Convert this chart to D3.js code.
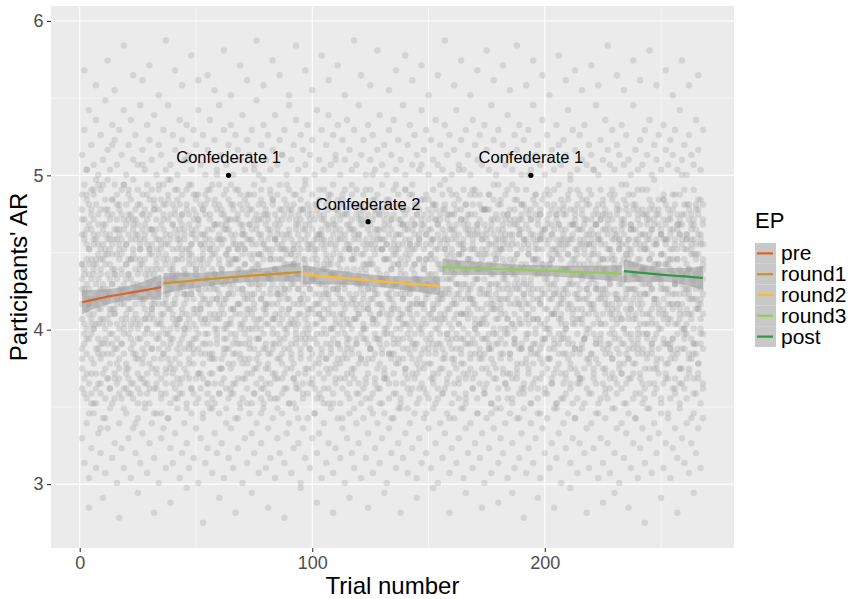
<!DOCTYPE html>
<html>
<head>
<meta charset="utf-8">
<script src="https://cdn.jsdelivr.net/npm/d3@7"></script>
<style>
  body { margin: 0; background: #fff; }
  svg text { font-family: "Liberation Sans", Arial, sans-serif; }
</style>
</head>
<body>
<svg id="chart" width="856" height="599"></svg>
<script>
// ---- data ----
const epLevels = ["pre", "round1", "round2", "round3", "post"];
const epColors = ["#d9622b", "#d09022", "#fbb934", "#92cd55", "#2b9a45"];

// loess fit per EP block: trial, fitted AR, standard error
const fitTrials = [[1, 9, 18, 27, 35], [36, 51, 65, 80, 95], [96, 111, 125, 140, 155], [156, 175, 195, 214, 233], [234, 243, 251, 260, 268]];
const fitAR = [[4.178, 4.205, 4.23, 4.253, 4.275], [4.30, 4.322, 4.34, 4.357, 4.374], [4.357, 4.338, 4.32, 4.30, 4.283], [4.406, 4.395, 4.385, 4.375, 4.364], [4.38, 4.366, 4.355, 4.345, 4.335]];
const fitSE = [[0.078, 0.055, 0.045, 0.058, 0.082], [0.068, 0.047, 0.04, 0.045, 0.063], [0.062, 0.045, 0.038, 0.045, 0.062], [0.053, 0.04, 0.034, 0.04, 0.053], [0.076, 0.055, 0.045, 0.055, 0.078]];

// confederates
const confTrial = [64, 124, 194];
const confAR = [5.0, 4.7, 5.0];
const confLabel = ["Confederate 1", "Confederate 2", "Confederate 1"];

const xTicks = [0, 100, 200];
const xMinor = [50, 150, 250];
const yTicks = [3, 4, 5, 6];
const yMinor = [3.5, 4.5, 5.5];

// participants' AR per trial: one token per trial, two digits per rating level
const arLevelMin = 2.75, arLevelStep = 0.0322;
const arByTrial = `
443158174963277441356652 512961124657367940476891 393456205365257148305945 473764094260288350445503 532659154067337645386249
423266225156247239506158 483557114469308152276488 402862185458377046436034 503355144163267843366747 453068214859347353415605
522560103965318544375854 413663194757297550456993 462758235261387140325543 543465134356248048516236 432957165068357742305987
493761084564287254406657 393156205359337947266301 512567154162367444465750 443859114855278339346896 473064224260327052495641
532658175066297645316162 403562094657378143536528 482855195469257341365990 423363144461347851405747 502460213958307248276706
453757125264268440475653 522966184759357544326289 413458234363287153456038 472661104956368039306851 543265164162247746505592
433856205167317342355944 492763134558338250416402 403059225361277047285755 463567084057377654446386 512555174865297441336042
443662194259347949396864 382858115264267145315697 533361214656388443486635 472457153969327251366204 423764125060307844415549
493159184463257540276791 552965234157357053465839 413456094761288148326459 482662145366377742436088 443858203959317350355746
503067164555248046406307 393560115262337441296853 462756224868367154475694 523263134358267945346137 433757195065297639515962
472561084260358349306689 533464174656277243445841 402958215463327851365500 453666124157387047416256 502659154967247540286590
423362234461308153475734 483056105159347345336848 542465183964287742506087 413760144755367149386345 463157225368268444425805
512863164362337450315660 443559094857297939456695 392767204560377254356140 533255134065257646485952 473861195258318041266486
432664114663347048435736 493458214256287853376702 552962155061367544515547 403656234466247342336092 462560085459328247406358
523365174155387150295839 423057124964277745466289 483763224360357439366654 452459185357307951425606 513566144668267243316144
392856204062338549485997 473261105258377054346441 542758164565297641395761 433864234856248046276988 503160114263367344435535
442657195561317840326203 493467134759287153505846 413055213964357548366593 533662095157258242416057 462559174466337247295638
403363145360377750456890 482956224158267443346153 553765124662307939475701 422758184955387054316445 473561204367248445405986
523157105463347341366249 442464154056297648525532 393859235061368153286696 503062164758277142446040 453455084265337850375707
532867194859257544466363 413660135257377239306891 482658214562318051425655 433363113960357447356137 492956175366287743495987
543761224655327040276442 402557145063388352445804 463265184458267348336258 513559094161347945385694 432762205557297141516746
473856124864367653316033 523060164259248246456389 443466235356317239365750 392658104768377850426102 503163154060287444295559
463657215262338048476592 422461134557357054325940 533364194165277742396248 482955085058387347436786 413760174463308151355636
552859224956257540466005 453566143961347153306453 493157115459297945415897 432662204667367241375544 503458164257328449486361
473864095162247444336090 402756214560377752436639 523261134855287039295751 443659184364338047476203 492567235358357342355688
413357104061267855416545 542963154756387146285962 463758205166317540446395 422462124459278250365737 483555175563347243496849
533060223957297648316106 393865084962367053425656 452858194660257941346487 513461144255337447455943 432657215267378144306234
493264114858287139485591 553656164161327752376652 422560235364247346415802 473763134556358442336060 403159185062307054466794
532755104359387648296340 463466203957268044435647 413061154768337251365989 523858225560297840506436 442464094256367445326205
483357174963277153395758 392860124461348347446592 513562215255317541276044 452656144066377948475853 503265194659257042356386
423759115462327750415638 472957234357287344306707 533463164864358139496161 442558084160307252365590 403661205156387645426246
493166134563267147335935 552757184258348041466497 433862225361297454285749 463059104767367843406002 513355153959247049376657
412664215062327544455888 483560124457378352316342 542958174665287240485654 453763234256357747346193 393256095560307151426737
502461194864267945295906 433659144158387453476246 473166205362337042365586 522757114556298148446459 443462163967367641305840
493858225159257354496091 402864134761347846356651 533355184357317240415703 462660085463378049276363 423757214055287544465995
513063154866357152385636 453559104460248443336148 392965195258327750436889 483656234662387041315755 542561124157277947456404
433458175564337345375544 473162144959307653506092 503857204261367239286658 412767094756258248416238 463360225363347444345887
522458164057297151475606 443663114865377842396150 492956214560317554306796 403561135158268047445941 553259184362357040366461
452664234956287746485701 483757104267337352326088 423062155459387944405547 513458204661247149276335 472865124157328441455893
393856175064367453346652 532560224755277645416105 443363094462357240295757 503659195258308147466590 462757143966377051375943
413161214860267843505639 523566114557337354336286 452958165363287542426048 483755234259367146306403 432462135061318049475762
543460184656387641366894 403057084165257253445945 473864205558347745286237 512659154762297439395689 443356224357378348466654
492863125267327044316007 423658174860247950415760 533161214055357546356391 462567105464307143485941 413557164559287852295634
502962234963367340436587 453760144257318054376150 392756195161387247455802 483264114658267642336756 543459204366347449505792
433058155556297144406238 473663224860378451286047 522457094162327045476488 403861175357257740365661 463165124764357353425904
512756214459308147316345 443560165061367543465896 492962104255277248346636 423357235467337941446153 533759144658387150295706
452664194063287646416290 483456085157317444375542 413061204560368052486859 503658134965247239326087 462863184356347847456438
553357225362297342355703 433860114759377054435955 472566164164328445306393 523259215057267541475646 393662094461357149386734
492956155558307743406089 443563194267387251285848 512758124855257946466200 423761234660337440345762 483157175363288153426595
543464104059367047365941 452660204556317644496137 403857145262277350315688 503062184365357842446352 473359224958247148395805
432865115461378045476657 523656164257327552296091 463261214763297240415744 412558095159367753356235 533763154466347443465586
482957194056267949336448 443460135362387144405902 513166234658318341286160 393557174960287350445693 472762124264357646376739
553858205257257043505847 423064104561337847316388 493356164159377454425755 452661224867297239366006 503659145456348145476443
433263194462307551295890 482457115058387144456536 533560214664277942385651
`;

// second set of ratings per trial (same encoding)
const arByTrialExtra = `
33476152 26505838 37436671 22555244 30416324 39525767 24455340 35496856 28535119 36406047
21465563 34546229 27425749 38486576 25515042 32445935 29556458 36475445 23406168 31525627
38436750 26495339 34466061 20535846 37416433 29555155 33456272 24505741 39426628 27485559
35545943 22446365 31515237 38476848 26405622 34536157 30465444 21496569 37435831 28526051
33455362 25506740 36415726 29556254 39485146 23426473 32545536 27465958 35406642 24515366
38476130 30435652 22536345 34495864 28445238 36556755 25415423 33506047 39455770 26526441
31485157 37426234 23545949 35465561 27406843 32535628 38496153 21445367 34516439 29475856
36555245 24436632 33505760 39466348 26415471 31526037 37485154 22456725 35535662 28406244
34495950 25545366 38446541 30515729 23466158 36425546 32556374 27475235 39506852 24435863
33485440 29526655 37416027 21545647 35456361 26495138 31535969 38406443 28475556 34516231
22445749 36555364 30426742 25485857 39526124 33465451 27436566 35505239 24546047 32415673
38476336 29535158 21456644 34495762 26406233 37555550 31445968 23515341 36486455 28425826
33546148 39465463 25506737 30435652 35526045 22475270 37416534 27555759 32496242 24445557
38535929 29466450 34405365 21516138 36485654 26546846 33435823 39505161 28456340 31525767
23476035 37425456 27556644 35495260 30446249 25535631 38405972 32516543 22465358 34486136
29545753 36436464 24505541 39456027 31526857 26415146 33556369 37475638 21496252 35445462
28535933 38466648 25405271 32546142 23485755 36426425 30515360 34455845 27556737 39495566
22436051 33525440 37476358 26415134 31545863 35466647 24505622 38446154 29535343 36485968
23426539 34555756 28495245 39456230 30515561 25406850 37536036 32475465 21445848 35526427
27465157 38416344 31545670 24486135 36435353 29556662 34505741 22456258 37525532 26405949
33496467 39475238 28535855 35426746 23555424 32446063 37515642 25466357 30405134 36546551
27485769 34435340 21526260 38455528 29506647 35415956 24555237 33476465 39535644 26446152
31495471 36426033 22545758 37466745 28515362 34406226 25535549 38485955 30436539 23525166
35455843 32556357 27415630 39496153 24545468 33476641 29445260 36505935 21426450 37535763
26465345 34516224 31405556 38556738 23485861 35435147 28526369 32455633 39496052 25545458
36416542 30475764 22535236 33446155 37505927 27466648 35555360 24425843 31486270 38535539
29406457 34515146 21456062 36545734 26496353 32435465 39475641 28526149
`;

// ---- decode points ----
const arPoints = [];
[arByTrial, arByTrialExtra].forEach(src => {
  src.trim().split(/\s+/).forEach((tok, i) => {
    for (let k = 0; k + 1 < tok.length; k += 2) {
      arPoints.push({ trial: i + 1, ar: arLevelMin + (+tok.slice(k, k + 2)) * arLevelStep });
    }
  });
});

// ---- layout ----
const svg = d3.select("#chart");
const panel = { left: 51, right: 734, top: 6, bottom: 548 };

const x = d3.scaleLinear().domain([-12.35, 281.35]).range([panel.left, panel.right]);
const y = d3.scaleLinear().domain([2.586, 6.097]).range([panel.bottom, panel.top]);

// panel background + grid
svg.append("rect")
  .attr("x", panel.left).attr("y", panel.top)
  .attr("width", panel.right - panel.left).attr("height", panel.bottom - panel.top)
  .attr("fill", "#ebebeb");

const grid = svg.append("g").attr("class", "grid");
grid.selectAll("line.xminor").data(xMinor).join("line")
  .attr("x1", d => x(d)).attr("x2", d => x(d))
  .attr("y1", panel.top).attr("y2", panel.bottom)
  .attr("stroke", "#fff").attr("stroke-width", 0.55);
grid.selectAll("line.yminor").data(yMinor).join("line")
  .attr("y1", d => y(d)).attr("y2", d => y(d))
  .attr("x1", panel.left).attr("x2", panel.right)
  .attr("stroke", "#fff").attr("stroke-width", 0.55);
grid.selectAll("line.xmajor").data(xTicks).join("line")
  .attr("x1", d => x(d)).attr("x2", d => x(d))
  .attr("y1", panel.top).attr("y2", panel.bottom)
  .attr("stroke", "#fff").attr("stroke-width", 1.1);
grid.selectAll("line.ymajor").data(yTicks).join("line")
  .attr("y1", d => y(d)).attr("y2", d => y(d))
  .attr("x1", panel.left).attr("x2", panel.right)
  .attr("stroke", "#fff").attr("stroke-width", 1.1);

// scatter
svg.append("g").attr("class", "points")
  .selectAll("circle").data(arPoints).join("circle")
  .attr("cx", d => x(d.trial))
  .attr("cy", d => y(d.ar))
  .attr("r", 3.2)
  .attr("fill", "#999")
  .attr("fill-opacity", 0.28);

// ribbons + fit lines
const fits = epLevels.map((ep, i) => ({
  ep: ep,
  color: epColors[i],
  rows: fitTrials[i].map((t, j) => ({ t: t, fit: fitAR[i][j], se: fitSE[i][j] }))
}));

const ribbon = d3.area()
  .x(d => x(d.t))
  .y0(d => y(d.fit - d.se))
  .y1(d => y(d.fit + d.se))
  .curve(d3.curveMonotoneX);

const fitLine = d3.line()
  .x(d => x(d.t))
  .y(d => y(d.fit))
  .curve(d3.curveMonotoneX);

const fitG = svg.append("g").attr("class", "fits");
fitG.selectAll("path.ribbon").data(fits).join("path")
  .attr("class", "ribbon")
  .attr("d", d => ribbon(d.rows))
  .attr("fill", "#999")
  .attr("fill-opacity", 0.55);
fitG.selectAll("path.fit").data(fits).join("path")
  .attr("class", "fit")
  .attr("d", d => fitLine(d.rows))
  .attr("fill", "none")
  .attr("stroke", d => d.color)
  .attr("stroke-width", 2.2);

// confederates
const confG = svg.append("g").attr("class", "conf");
confG.selectAll("circle").data(confTrial).join("circle")
  .attr("cx", d => x(d))
  .attr("cy", (d, i) => y(confAR[i]))
  .attr("r", 2.6)
  .attr("fill", "#000");
confG.selectAll("text").data(confTrial).join("text")
  .attr("x", d => x(d))
  .attr("y", (d, i) => y(confAR[i]) - 12)
  .attr("text-anchor", "middle")
  .attr("font-size", "16.5px")
  .attr("fill", "#000")
  .text((d, i) => confLabel[i]);

// axes
const xAxis = svg.append("g")
  .attr("transform", `translate(0,${panel.bottom})`)
  .call(d3.axisBottom(x).tickValues(xTicks).tickFormat(d3.format("d")).tickSize(4).tickPadding(4.5));
const yAxis = svg.append("g")
  .attr("transform", `translate(${panel.left},0)`)
  .call(d3.axisLeft(y).tickValues(yTicks).tickFormat(d3.format("d")).tickSize(4).tickPadding(3.5));
[xAxis, yAxis].forEach(a => {
  a.select(".domain").remove();
  a.selectAll(".tick line").attr("stroke", "#333").attr("stroke-width", 1.1);
  a.selectAll(".tick text").attr("fill", "#4d4d4d").style("font-size", "18px")
    .style("font-family", "'Liberation Sans', Arial, sans-serif");
});

svg.append("text")
  .attr("x", (panel.left + panel.right) / 2)
  .attr("y", 594)
  .attr("text-anchor", "middle")
  .attr("font-size", "24px")
  .text("Trial number");

svg.append("text")
  .attr("transform", `translate(27,${(panel.top + panel.bottom) / 2}) rotate(-90)`)
  .attr("text-anchor", "middle")
  .attr("font-size", "24px")
  .text("Participants' AR");

// legend
const legend = svg.append("g").attr("class", "legend");
const keyH = 20.8, keyTop = 243;
legend.append("text")
  .attr("x", 755).attr("y", 228)
  .attr("font-size", "22px")
  .text("EP");
legend.selectAll("rect").data(epLevels).join("rect")
  .attr("x", 755).attr("y", (d, i) => keyTop + i * keyH)
  .attr("width", 21).attr("height", keyH)
  .attr("fill", "#c8c8c8");
legend.selectAll("line").data(epLevels).join("line")
  .attr("x1", 757).attr("x2", 773)
  .attr("y1", (d, i) => keyTop + i * keyH + keyH / 2)
  .attr("y2", (d, i) => keyTop + i * keyH + keyH / 2)
  .attr("stroke", (d, i) => epColors[i])
  .attr("stroke-width", 2.2);
legend.selectAll("text.lab").data(epLevels).join("text")
  .attr("class", "lab")
  .attr("x", 781)
  .attr("y", (d, i) => keyTop + i * keyH + keyH / 2 + 7)
  .attr("font-size", "21px")
  .text(d => d);
</script>
</body>
</html>
